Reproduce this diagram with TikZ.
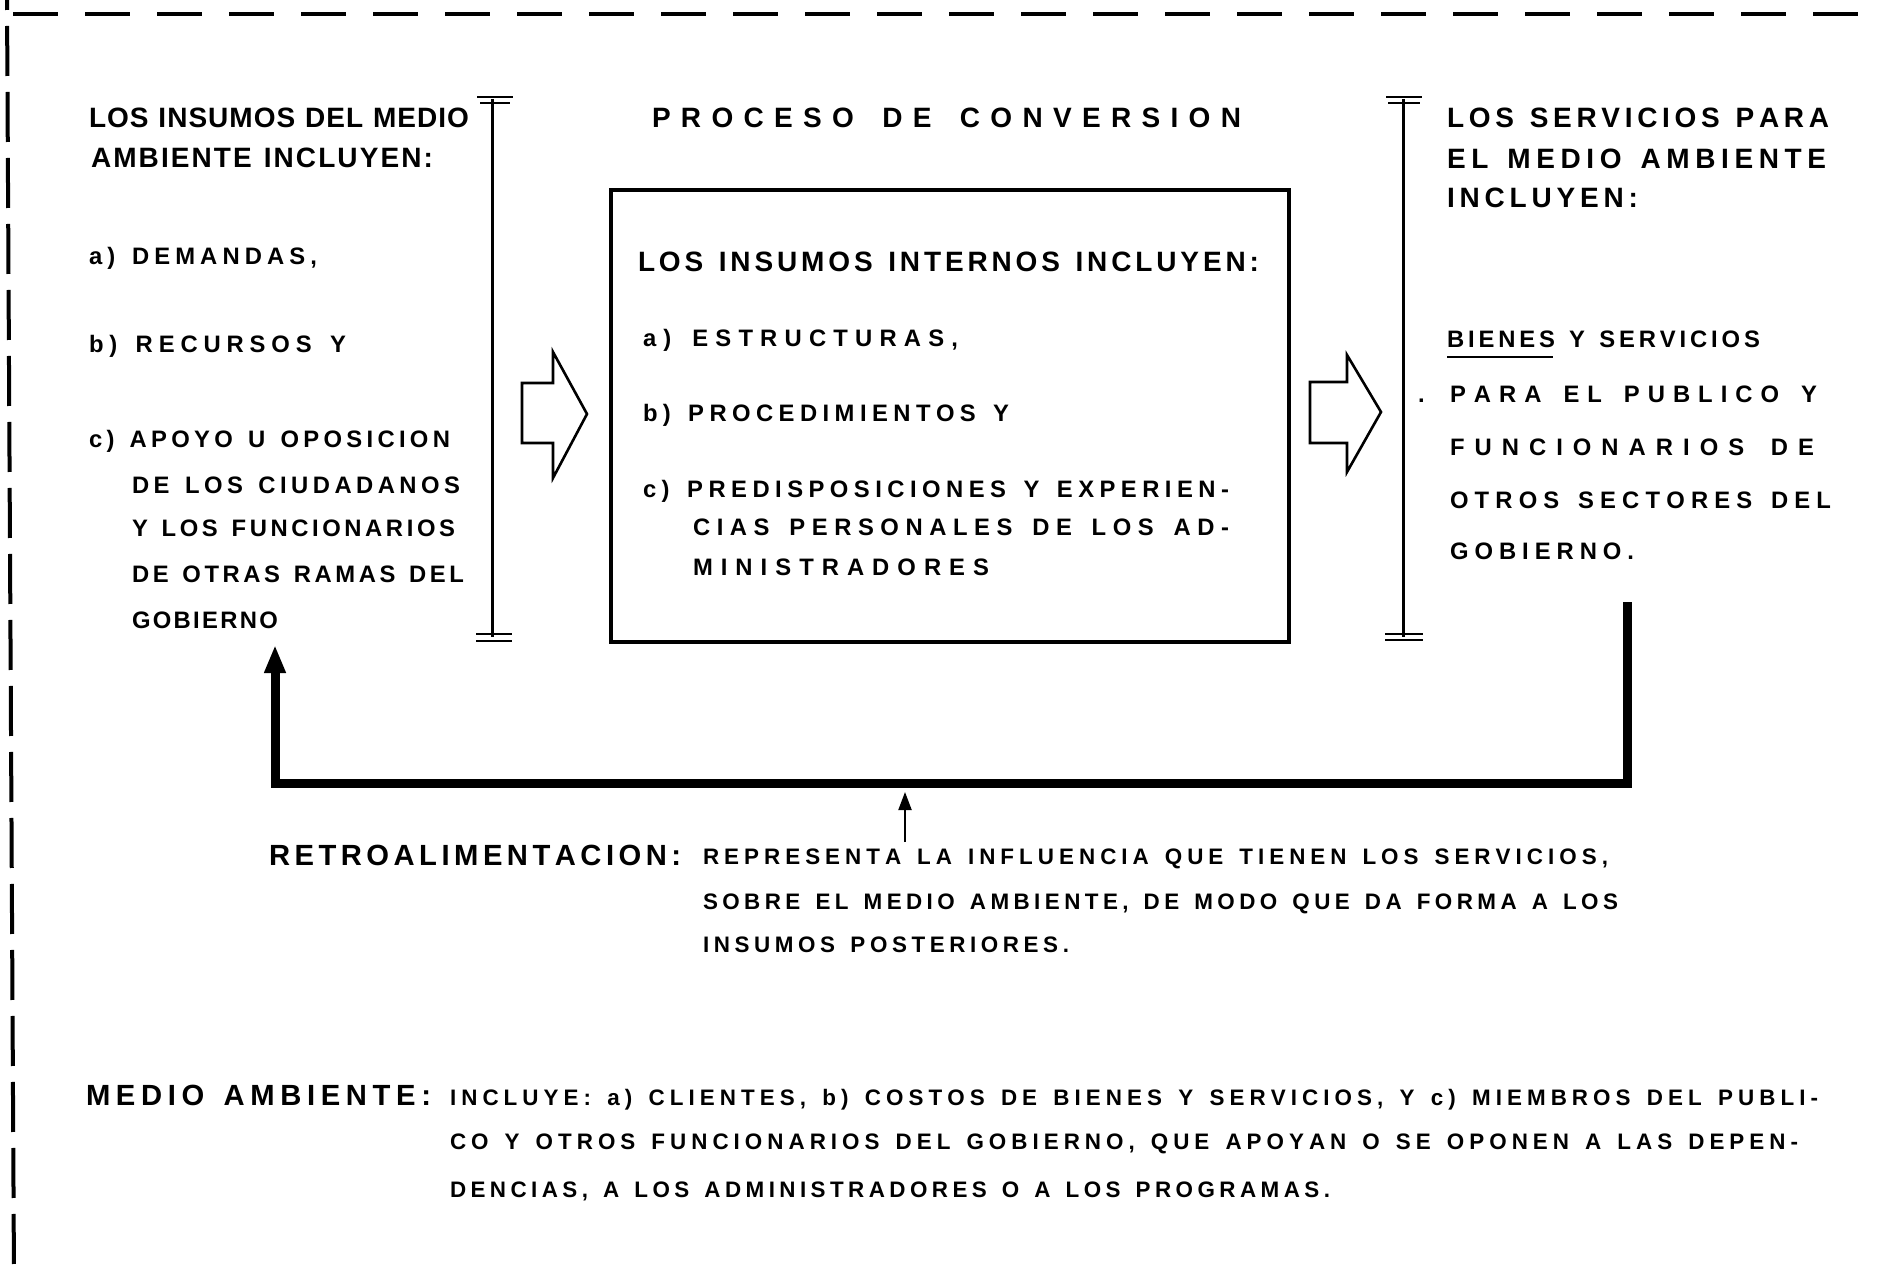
\documentclass[tikz,border=0pt]{standalone}
\usepackage{fontspec}
\setmainfont{Liberation Sans}
\usetikzlibrary{arrows.meta}

% Spread a line of capitals evenly over a given width (letter-spaced lettering)
\ExplSyntaxOn
\dim_new:N \l_spread_gap_dim
\int_new:N \l_spread_n_int
\box_new:N \l_spread_box
\NewDocumentCommand \spreadto { m m }
  {
    \hbox_set:Nn \l_spread_box { \str_map_inline:nn {#2} {##1} }
    \int_set:Nn \l_spread_n_int { \str_count:n {#2} - 1 }
    \dim_set:Nn \l_spread_gap_dim { ( #1 - \box_wd:N \l_spread_box ) / \l_spread_n_int }
    \hbox_to_wd:nn {#1}
      { \str_map_inline:nn {#2} { ##1 \kern \l_spread_gap_dim } \kern -\l_spread_gap_dim }
  }
\ExplSyntaxOff

\tikzset{
  txt/.style={inner sep=0pt, outer sep=0pt, anchor=base west},
  headtxt/.style={txt, font=\fontsize{14}{16}\selectfont\bfseries},
  bigtxt/.style={txt, font=\fontsize{14.6}{17}\selectfont\bfseries},
  itemtxt/.style={txt, font=\fontsize{11.9}{14}\selectfont\bfseries},
  paratxt/.style={txt, font=\fontsize{11.2}{13}\selectfont\bfseries},
  frame/.style={line width=2pt},
  bracket/.style={line width=1.5pt},
  serif/.style={line width=0.9pt},
  hollow/.style={line width=1.3pt, line join=miter},
  feedback/.style={line width=4.5pt, -{Triangle[width=10pt,length=14pt]}},
  pointer/.style={line width=1pt, -{Triangle[width=6.5pt,length=9pt]}},
}

\begin{document}
\begin{tikzpicture}[x=0.5pt, y=-0.5pt]
\useasboundingbox (0,0) rectangle (1877,1278);

% dashed outer frame (top and left edges)
\draw[frame, dash pattern=on 22.5pt off 13.5pt, dash phase=-6.5pt] (0,14) -- (1877,14);
\draw[frame, dash pattern=on 25pt off 8pt, dash phase=-13pt] (7,0) -- (14,1278);

% brackets beside the input and output columns
\draw[bracket] (492,99) -- (492,637);
\draw[serif] (477,97) -- (513,97);
\draw[serif] (480,103) -- (510,103);
\draw[serif] (476,634) -- (512,634);
\draw[serif] (476,641) -- (512,641);

\draw[bracket] (1403,99) -- (1403,637);
\draw[serif] (1386,97) -- (1422,97);
\draw[serif] (1388,103) -- (1420,103);
\draw[serif] (1385,634) -- (1423,634);
\draw[serif] (1385,640) -- (1423,640);

% conversion process box
\node[draw, line width=2pt, minimum width=339pt, minimum height=226pt, inner sep=0pt, anchor=north west] (procbox) at (609,188) {};

% hollow flow arrows
\draw[hollow] (522,383) -- (553,383) -- (553,352) -- (587,414) -- (553,478) -- (553,443) -- (522,443) -- cycle;
\draw[hollow] (1310,382) -- (1347,382) -- (1347,355) -- (1381,412) -- (1347,472) -- (1347,443) -- (1310,443) -- cycle;

% left column: inputs from the environment
\node[headtxt] (l1) at (89,128) {\spreadto{190pt}{LOS INSUMOS DEL MEDIO}};
\node[headtxt] (l2) at (91,168) {\spreadto{171pt}{AMBIENTE INCLUYEN:}};
\node[itemtxt] (l3) at (89,265) {\spreadto{114pt}{a) DEMANDAS,}};
\node[itemtxt] (l4) at (89,352) {\spreadto{128.5pt}{b) RECURSOS Y}};
\node[itemtxt] (l5) at (89,447) {\spreadto{180.5pt}{c) APOYO U OPOSICION}};
\node[itemtxt] (l6) at (132,493) {\spreadto{164pt}{DE LOS CIUDADANOS}};
\node[itemtxt] (l7) at (132,536) {\spreadto{161.5pt}{Y LOS FUNCIONARIOS}};
\node[itemtxt] (l8) at (132,582) {\spreadto{166pt}{DE OTRAS RAMAS DEL}};
\node[itemtxt] (l9) at (132,628) {\spreadto{73pt}{GOBIERNO}};

% centre column: conversion process
\node[headtxt] (c0) at (652,128) {\spreadto{294.5pt}{PROCESO DE CONVERSION}};
\node[headtxt] (c1) at (638,272) {\spreadto{310.5pt}{LOS INSUMOS INTERNOS INCLUYEN:}};
\node[itemtxt] (c2) at (643,346) {\spreadto{157.5pt}{a) ESTRUCTURAS,}};
\node[itemtxt] (c3) at (643,421) {\spreadto{183pt}{b) PROCEDIMIENTOS Y}};
\node[itemtxt] (c4) at (643,497) {\spreadto{293pt}{c) PREDISPOSICIONES Y EXPERIEN-}};
\node[itemtxt] (c5) at (693,535) {\spreadto{268pt}{CIAS PERSONALES DE LOS AD-}};
\node[itemtxt] (c6) at (693,575) {\spreadto{148pt}{MINISTRADORES}};

% right column: services for the environment
\node[headtxt] (r1) at (1447,128) {\spreadto{191pt}{LOS SERVICIOS PARA}};
\node[headtxt] (r2) at (1447,169) {\spreadto{189.5pt}{EL MEDIO AMBIENTE}};
\node[headtxt] (r3) at (1447,208) {\spreadto{95.5pt}{INCLUYEN:}};
\node[itemtxt] (r4) at (1447,348) {\spreadto{156.5pt}{BIENES Y SERVICIOS}};
\draw[line width=1pt] ([yshift=-4.5pt]r4.base west) -- ++(106,0);
\node[itemtxt] (dotmark) at (1418,402) {.};
\node[itemtxt] (r5) at (1450,402) {\spreadto{183.5pt}{PARA EL PUBLICO Y}};
\node[itemtxt] (r6) at (1450,455) {\spreadto{182pt}{FUNCIONARIOS DE}};
\node[itemtxt] (r7) at (1450,508) {\spreadto{190.5pt}{OTROS SECTORES DEL}};
\node[itemtxt] (r8) at (1450,559) {\spreadto{92pt}{GOBIERNO.}};

% feedback loop from the outputs back to the inputs
\coordinate (fbstart) at (1627,602);
\coordinate (fbright) at (1627,783);
\coordinate (fbleft) at (275,783);
\coordinate (fbend) at (275,645);
\draw[feedback] (fbstart) -- (fbright) -- (fbleft) -- (fbend);

% feedback explanation
\node[bigtxt] (b1) at (269,865) {\spreadto{205pt}{RETROALIMENTACION:}};
\node[paratxt] (b2) at (703,864) {\spreadto{452.5pt}{REPRESENTA LA INFLUENCIA QUE TIENEN LOS SERVICIOS,}};
\node[paratxt] (b3) at (703,909) {\spreadto{457.5pt}{SOBRE EL MEDIO AMBIENTE, DE MODO QUE DA FORMA A LOS}};
\node[paratxt] (b4) at (703,952) {\spreadto{183pt}{INSUMOS POSTERIORES.}};
\coordinate (ptfoot) at (905,842);
\coordinate (pttip) at (905,792);
\draw[pointer] (ptfoot) -- (pttip);

% environment explanation
\node[bigtxt] (m1) at (86,1105) {\spreadto{172.5pt}{MEDIO AMBIENTE:}};
\node[paratxt] (m2) at (450,1105) {\spreadto{684pt}{INCLUYE: a) CLIENTES, b) COSTOS DE BIENES Y SERVICIOS, Y c) MIEMBROS DEL PUBLI-}};
\node[paratxt] (m3) at (450,1149) {\spreadto{674pt}{CO Y OTROS FUNCIONARIOS DEL GOBIERNO, QUE APOYAN O SE OPONEN A LAS DEPEN-}};
\node[paratxt] (m4) at (450,1197) {\spreadto{440pt}{DENCIAS, A LOS ADMINISTRADORES O A LOS PROGRAMAS.}};
\end{tikzpicture}
\end{document}
